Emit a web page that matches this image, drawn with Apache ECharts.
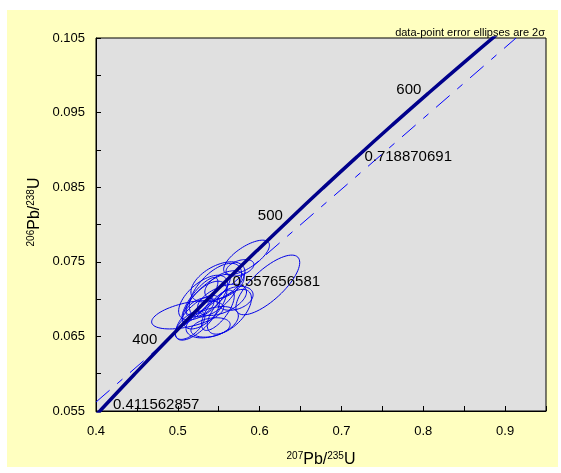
<!DOCTYPE html>
<html>
<head>
<meta charset="utf-8">
<script src="https://cdn.jsdelivr.net/npm/echarts@6/dist/echarts.min.js"></script>
<style>
  html, body { margin: 0; padding: 0; background: #fff; }
  #main { width: 561px; height: 473px; }
</style>
</head>
<body>
<div id="main"></div>
<script>
// concordia curve (ages in Ma) and its ratios
var concAges = [340, 350, 375, 400, 425, 450, 475, 500, 525, 550, 575, 600, 625, 650];
var concX = [0.39776, 0.41156, 0.44675, 0.48281, 0.51977, 0.55766, 0.59648, 0.63628, 0.67707, 0.71887, 0.76172, 0.80563, 0.85064, 0.89677];
var concY = [0.054158, 0.055795, 0.059897, 0.064016, 0.068150, 0.072301, 0.076467, 0.080650, 0.084849, 0.089064, 0.093296, 0.097544, 0.101809, 0.106090];

// age ticks shown on the curve
var tickAges = [400, 500, 600];
// extra labels (printed as 207/235 values)
var noteAges = [350, 450, 550];
var noteText = ["0.411562857", "0.557656581", "0.718870691"];

// dashed reference line
var refX = [0.4, 0.9134];
var refY = [0.0562, 0.105];

// error ellipses: centre, 2s half widths, correlation
var ellX   = [0.584, 0.610, 0.512, 0.546, 0.576, 0.533, 0.554, 0.524, 0.563, 0.542, 0.527, 0.557, 0.515, 0.549, 0.537, 0.570, 0.527, 0.540, 0.549, 0.531];
var ellY   = [0.0756, 0.0719, 0.0679, 0.0712, 0.0742, 0.0692, 0.0699, 0.0675, 0.0683, 0.0669, 0.0699, 0.0719, 0.0665, 0.0685, 0.0706, 0.0701, 0.0689, 0.0662, 0.0723, 0.0702];
var ellSX  = [0.028, 0.039, 0.044, 0.032, 0.017, 0.027, 0.030, 0.027, 0.027, 0.032, 0.022, 0.024, 0.018, 0.020, 0.027, 0.022, 0.017, 0.024, 0.033, 0.030];
var ellSY  = [0.0023, 0.0040, 0.0019, 0.0036, 0.0011, 0.0032, 0.0021, 0.0030, 0.0030, 0.0021, 0.0030, 0.0019, 0.0019, 0.0027, 0.0027, 0.0016, 0.0013, 0.0013, 0.0027, 0.0030];
var ellRho = [0.7, 0.75, 0.5, 0.6, 0.4, 0.6, 0.5, 0.7, 0.6, 0.4, 0.8, 0.5, 0.6, 0.7, 0.8, 0.3, 0.5, 0.3, 0.5, 0.6];

var FONT = "'Liberation Sans', Arial, sans-serif";

var concData = concX.map(function (x, i) { return [x, concY[i]]; });
var tickData = tickAges.map(function (a) {
  var i = concAges.indexOf(a);
  return { value: [concX[i], concY[i]], name: String(a) };
});
var noteData = noteAges.map(function (a, k) {
  var i = concAges.indexOf(a);
  return { value: [concX[i], concY[i]], name: noteText[k] };
});
var ellData = ellX.map(function (x, i) { return [x, ellY[i], ellSX[i], ellSY[i], ellRho[i]]; });

var richName = {
  sup: { fontSize: 10, fontFamily: FONT, color: '#000', verticalAlign: 'top', lineHeight: 10 },
  b: { fontSize: 16, fontFamily: FONT, color: '#000', lineHeight: 18 }
};

var myChart = echarts.init(document.getElementById('main'));
myChart.setOption({
  animation: false,
  backgroundColor: 'transparent',
  graphic: [
    { type: 'rect', z: -100, silent: true, shape: { x: 7, y: 10, width: 551, height: 457 }, style: { fill: '#FFFFC0' } },
    { type: 'text', x: 545, y: 33, z: 100, style: { text: 'data-point error ellipses are 2\u03c3', font: '11px ' + FONT, fill: '#000', align: 'right', verticalAlign: 'middle' } },
    { type: 'text', x: 35, y: 212, rotation: Math.PI / 2, z: 100,
      style: { text: '{sup|206}{b|Pb/}{sup|238}{b|U}', rich: richName, align: 'center', verticalAlign: 'middle' } }
  ],
  grid: {
    left: 96, top: 38, width: 450, height: 373,
    show: true, backgroundColor: '#E0E0E0', borderColor: '#000', borderWidth: 1
  },
  xAxis: {
    type: 'value', min: 0.4, max: 0.95, interval: 0.05,
    name: '{sup|207}{b|Pb/}{sup|235}{b|U}', nameLocation: 'middle', nameGap: 40,
    nameTextStyle: { rich: richName },
    axisLine: { show: true, onZero: false, lineStyle: { color: '#000', width: 1 } },
    axisTick: { show: true, inside: true, length: 5, lineStyle: { color: '#000' } },
    splitLine: { show: false },
    axisLabel: {
      margin: 14, fontSize: 13, fontFamily: FONT, color: '#000',
      formatter: function (v) { return Math.round(v * 100) % 10 === 0 ? v.toFixed(1) : ''; }
    }
  },
  yAxis: {
    type: 'value', min: 0.055, max: 0.105, interval: 0.005,
    axisLine: { show: true, onZero: false, lineStyle: { color: '#000', width: 1 } },
    axisTick: { show: true, inside: true, length: 5, lineStyle: { color: '#000' } },
    splitLine: { show: false },
    axisLabel: {
      margin: 11, fontSize: 13, fontFamily: FONT, color: '#000',
      formatter: function (v) { return Math.round(v * 1000) % 10 === 5 ? v.toFixed(3) : ''; }
    }
  },
  series: [
    {
      type: 'custom',
      data: ellData,
      encode: { x: 0, y: 1 },
      clip: true,
      renderItem: function (params, api) {
        var cx = api.value(0), cy = api.value(1), sx = api.value(2), sy = api.value(3), r = api.value(4);
        var pts = [];
        for (var k = 0; k < 72; k++) {
          var t = k / 72 * Math.PI * 2;
          var x = cx + sx * Math.cos(t);
          var y = cy + sy * (r * Math.cos(t) + Math.sqrt(1 - r * r) * Math.sin(t));
          pts.push(api.coord([x, y]));
        }
        return { type: 'polygon', shape: { points: pts }, style: { fill: 'none', stroke: '#0000E6', lineWidth: 1 } };
      }
    },
    {
      type: 'line',
      data: refX.map(function (x, i) { return [x, refY[i]]; }),
      symbol: 'none',
      lineStyle: { color: '#0000FF', width: 1, type: [18, 10, 7, 10] },
      z: 3
    },
    {
      type: 'line',
      data: concData,
      smooth: true,
      symbol: 'none',
      clip: true,
      lineStyle: { color: '#00008B', width: 3.5 },
      z: 4
    },
    {
      type: 'scatter',
      data: tickData,
      symbolSize: 1,
      itemStyle: { color: 'rgba(0,0,0,0)', opacity: 1 },
      z: 5,
      label: {
        show: true, position: 'left', distance: 6, offset: [0, -4], opacity: 1, textBorderWidth: 0,
        formatter: '{b}', fontSize: 15, fontFamily: FONT, color: '#000'
      }
    },
    {
      type: 'scatter',
      data: noteData,
      symbolSize: 1,
      itemStyle: { color: 'rgba(0,0,0,0)', opacity: 1 },
      z: 5,
      label: {
        show: true, position: 'right', distance: 7, opacity: 1, textBorderWidth: 0,
        formatter: '{b}', fontSize: 15, fontFamily: FONT, color: '#000'
      }
    }
  ]
});
</script>
</body>
</html>
